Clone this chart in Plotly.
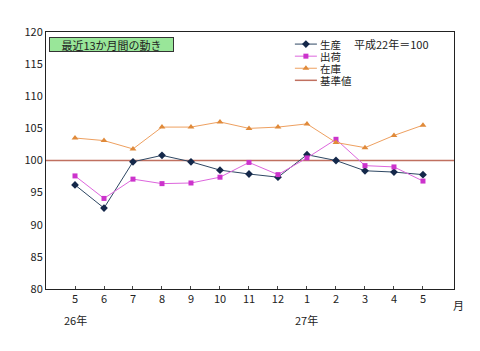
import plotly.graph_objects as go

months = ["5", "6", "7", "8", "9", "10", "11", "12", "1", "2", "3", "4", "5"]
production = [96.2, 92.6, 99.8, 100.8, 99.8, 98.5, 97.9, 97.4, 100.9, 100.0, 98.4, 98.2, 97.8]
shipments = [97.6, 94.1, 97.1, 96.4, 96.5, 97.4, 99.7, 97.8, 100.4, 103.3, 99.2, 99.0, 96.8]
inventory = [103.5, 103.1, 101.8, 105.2, 105.2, 106.0, 105.0, 105.2, 105.7, 102.8, 102.0, 103.9, 105.5]
base_value = 100
year_labels = [(0, "26年"), (8, "27年")]
series_names = ["生産", "出荷", "在庫", "基準値"]

xs = list(range(len(months)))
FONT = "Noto Sans CJK JP"

styles = [
    dict(line=dict(color="#2e4763", width=1), marker=dict(symbol="diamond", size=6, color="#14284a")),
    dict(line=dict(color="#dd66dd", width=1), marker=dict(symbol="square", size=5, color="#cc33cc")),
    dict(line=dict(color="#eea060", width=1), marker=dict(symbol="triangle-up", size=6, color="#e08a3a")),
    dict(line=dict(color="#c07060", width=1.5), marker=None),
]

fig = go.Figure()
for vals, name, st in zip([production, shipments, inventory], series_names[:3], styles[:3]):
    fig.add_trace(go.Scatter(x=xs, y=vals, name=name, mode="lines+markers",
                             line=st["line"], marker=st["marker"], showlegend=False))
fig.add_hline(y=base_value, line=dict(color="#c07060", width=1.5), layer="below")

# manual compact legend on an overlay axis in plot-fraction units
leg_x0, leg_x1, leg_top, leg_step = 0.610, 0.664, 0.953, 0.047
annotations = []
for k, (name, st) in enumerate(zip(series_names, styles)):
    yk = leg_top - k * leg_step
    fig.add_trace(go.Scatter(x=[leg_x0, leg_x1], y=[yk, yk], xaxis="x2", yaxis="y2",
                             mode="lines", line=st["line"], hoverinfo="skip", showlegend=False))
    if st["marker"] is not None:
        fig.add_trace(go.Scatter(x=[(leg_x0 + leg_x1) / 2], y=[yk], xaxis="x2", yaxis="y2",
                                 mode="markers", marker=st["marker"], hoverinfo="skip", showlegend=False))
    annotations.append(dict(x=leg_x1 + 0.003, y=yk, xref="x2", yref="y2", text=name, showarrow=False,
                            xanchor="left", yanchor="middle", height=11,
                            font=dict(size=10.5, color="#222", family=FONT)))

for i, txt in year_labels:
    annotations.append(dict(x=i, y=-0.121, xref="x", yref="paper", text=txt, showarrow=False,
                            yanchor="middle", font=dict(size=11, color="#222", family=FONT)))
annotations.append(dict(x=1.0, y=-0.062, xref="paper", yref="paper", text="月", showarrow=False,
                        xanchor="left", yanchor="middle", xshift=-3, font=dict(size=11, color="#222", family=FONT)))
annotations.append(dict(x=0.848, y=0.953, xref="paper", yref="paper", text="平成22年＝100", showarrow=False,
                        xanchor="center", yanchor="middle", font=dict(size=11, color="#222", family=FONT)))
annotations.append(dict(x=0.007, y=0.953, xref="paper", yref="paper", text="最近13か月間の動き", showarrow=False,
                        xanchor="left", yanchor="middle", bgcolor="#99e699", bordercolor="#333", borderwidth=1,
                        borderpad=0, width=123, height=13, font=dict(size=11, color="#222", family=FONT)))

fig.update_layout(
    width=480, height=351,
    margin=dict(l=46, r=26, t=32, b=62),
    paper_bgcolor="white", plot_bgcolor="white",
    font=dict(family=FONT, size=11, color="#222"),
    showlegend=False,
    annotations=annotations,
    xaxis=dict(range=[-1, 13.07], tickvals=xs, ticktext=months, showgrid=False, zeroline=False,
               showline=True, linecolor="#222", linewidth=1, mirror=True,
               ticks="inside", ticklen=3, tickcolor="#444"),
    yaxis=dict(range=[80, 120], dtick=5, showgrid=False, zeroline=False,
               showline=True, linecolor="#222", linewidth=1, mirror=True, ticks=""),
    xaxis2=dict(range=[0, 1], overlaying="x", visible=False, fixedrange=True),
    yaxis2=dict(range=[0, 1], overlaying="y", visible=False, fixedrange=True),
)

fig.write_html("out.html")
